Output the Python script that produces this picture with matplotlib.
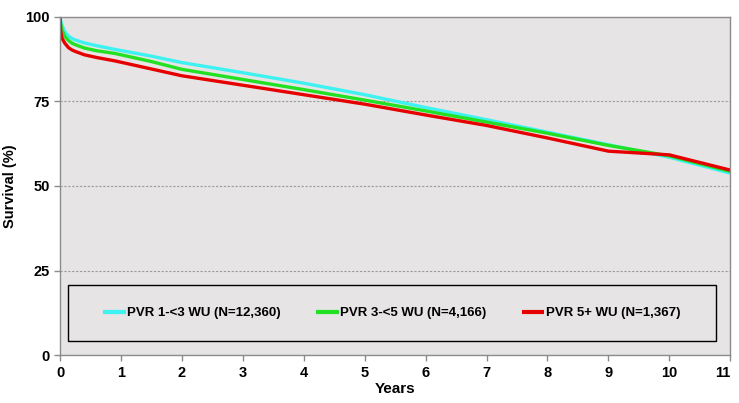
import matplotlib
matplotlib.use('Agg')
from matplotlib import pyplot as plt
from matplotlib.patches import Rectangle

plt.rcParams['font.family'] = ['Liberation Sans', 'DejaVu Sans']
plt.rcParams['font.weight'] = 'bold'

# survival curves
years = [0, 0.01, 0.03, 0.08, 0.14, 0.2, 0.25, 0.4, 0.6, 0.9, 1.5, 2, 3, 4, 5, 6, 7, 8, 9, 10, 11]
surv_low = [100, 99, 97.6, 95.6, 94.3, 93.6, 93.2, 92.3, 91.5, 90.4, 88.4, 86.5, 83.5, 80.4, 77.0, 73.2, 69.6, 65.9, 62.2, 58.5, 53.8]
surv_mid = [100, 98, 96.2, 94.2, 93.0, 92.2, 91.8, 90.8, 90.0, 89.2, 86.8, 84.5, 81.5, 78.5, 75.4, 72.2, 68.9, 65.6, 62.0, 58.9, 54.3]
surv_high = [100, 96, 93.8, 92.2, 90.9, 90.2, 89.8, 88.8, 88.0, 87.0, 84.6, 82.6, 79.8, 77.0, 74.2, 71.0, 67.9, 64.2, 60.3, 59.2, 54.7]

labels = ['PVR 1-<3 WU (N=12,360)', 'PVR 3-<5 WU (N=4,166)', 'PVR 5+ WU (N=1,367)']
colors = ['#3ef2f2', '#22e022', '#e60000']

fig = plt.figure(figsize=(7.39, 4.03), dpi=100)
ax = fig.add_axes([0.0812, 0.119, 0.907, 0.839])
ax.set_facecolor('#e6e4e4')

for ys, lab, c in zip([surv_low, surv_mid, surv_high], labels, colors):
    ax.plot(years, ys, color=c, linewidth=2.4, label=lab, solid_capstyle='butt')

ax.set_xlim(0, 11)
ax.set_ylim(0, 100)
ax.set_xticks(range(0, 12))
ax.set_yticks([0, 25, 50, 75, 100])
ax.yaxis.grid(True, linestyle=(0, (2, 1.5)), color='#9a9a9a', linewidth=0.8)
ax.set_axisbelow(True)
for s in ax.spines.values():
    s.set_color('#8c8c8c')
    s.set_linewidth(1.0)
ax.tick_params(axis='both', colors='#8c8c8c', labelcolor='black', labelsize=10.5, length=4, width=1)
ax.tick_params(axis='x', pad=4)
for t in ax.get_xticklabels() + ax.get_yticklabels():
    t.set_fontweight('bold')
ax.get_xticklabels()[-1].set_horizontalalignment('right')

ax.set_xlabel('Years', fontsize=11, fontweight='bold', labelpad=1)
ax.set_ylabel('Survival (%)', fontsize=10.5, fontweight='bold', labelpad=6)

# legend box
box = Rectangle((0.012, 0.041), 0.966, 0.166, transform=ax.transAxes,
                facecolor='#e6e4e4', edgecolor='black', linewidth=1.0, zorder=3)
ax.add_patch(box)
leg = ax.legend(loc='center', bbox_to_anchor=(0.495, 0.124), ncol=3, frameon=False,
                fontsize=9.5, handlelength=1.7, handletextpad=0.1, columnspacing=2.7)
leg.set_zorder(4)
for line in leg.get_lines():
    line.set_linewidth(3)

fig.savefig('out.png', dpi=100)
